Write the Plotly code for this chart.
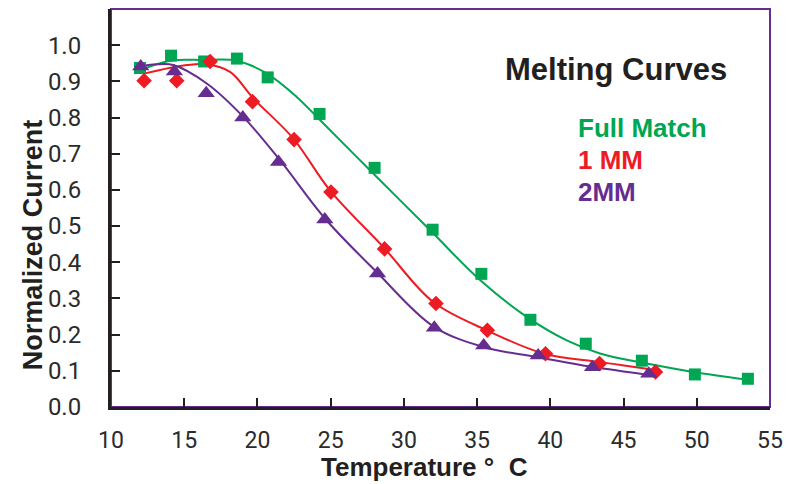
import plotly.graph_objects as go

# Measured points
full_x = [11.98, 14.1, 16.36, 18.6, 20.7, 24.24, 28.0, 31.96, 35.29, 38.64, 42.42, 46.25, 49.87, 53.49]
full_y = [0.937, 0.971, 0.955, 0.963, 0.911, 0.810, 0.661, 0.490, 0.368, 0.241, 0.175, 0.128, 0.090, 0.078]

mm1_x = [12.26, 14.49, 16.77, 19.66, 22.5, 25.02, 28.68, 32.19, 35.7, 39.67, 43.36, 47.18]
mm1_y = [0.902, 0.902, 0.955, 0.844, 0.739, 0.594, 0.437, 0.286, 0.212, 0.147, 0.120, 0.097]

mm2_x = [12.03, 14.33, 16.5, 19.0, 21.44, 24.6, 28.2, 32.08, 35.45, 39.17, 42.88, 46.72]
mm2_y = [0.941, 0.927, 0.867, 0.800, 0.677, 0.518, 0.369, 0.219, 0.170, 0.142, 0.110, 0.092]

# Fitted curves
full_fit_x = [11.71, 14.03, 16.28, 18.58, 20.63, 22.68, 24.27, 27.89, 31.78, 35.2, 38.39, 41.12, 43.39, 46.58, 49.74, 53.41]
full_fit_y = [0.926, 0.957, 0.959, 0.957, 0.922, 0.857, 0.793, 0.646, 0.489, 0.351, 0.249, 0.184, 0.148, 0.120, 0.097, 0.076]

mm1_fit_x = [12.32, 15.17, 16.54, 18.13, 19.72, 22.45, 24.95, 28.6, 32.01, 35.66, 39.52, 43.39, 46.58, 47.15]
mm1_fit_y = [0.922, 0.945, 0.947, 0.926, 0.853, 0.742, 0.599, 0.442, 0.290, 0.212, 0.148, 0.124, 0.106, 0.101]

mm2_fit_x = [11.75, 13.12, 14.25, 16.54, 19.03, 21.54, 24.61, 28.14, 32.01, 35.42, 39.07, 42.83, 46.81]
mm2_fit_y = [0.940, 0.947, 0.945, 0.894, 0.802, 0.682, 0.521, 0.373, 0.223, 0.166, 0.138, 0.111, 0.088]

x_ticks = [10, 15, 20, 25, 30, 35, 40, 45, 50, 55]
y_ticks = [0.0, 0.1, 0.2, 0.3, 0.4, 0.5, 0.6, 0.7, 0.8, 0.9, 1.0]

GREEN = "#00a651"
RED = "#ed1c24"
PURPLE = "#662d91"
DARK = "#231f20"

fig = go.Figure()
for fx, fy, c in [(full_fit_x, full_fit_y, GREEN), (mm1_fit_x, mm1_fit_y, RED), (mm2_fit_x, mm2_fit_y, PURPLE)]:
    fig.add_trace(go.Scatter(x=fx, y=fy, mode="lines", line=dict(color=c, width=2, shape="spline", smoothing=1),
                             hoverinfo="skip", showlegend=False))

fig.add_trace(go.Scatter(x=full_x, y=full_y, mode="markers", name="Full Match",
                         marker=dict(symbol="square", size=12, color=GREEN), showlegend=False))
fig.add_trace(go.Scatter(x=mm1_x, y=mm1_y, mode="markers", name="1 MM",
                         marker=dict(symbol="diamond", size=12, color=RED), showlegend=False))
fig.add_trace(go.Scatter(x=mm2_x, y=mm2_y, mode="markers", name="2MM",
                         marker=dict(symbol="triangle-up", size=15, color=PURPLE), showlegend=False))

# plot frame (purple top/right)
fig.add_shape(type="rect", xref="paper", yref="paper", x0=0, y0=0, x1=1, y1=1,
              line=dict(color=PURPLE, width=2), layer="below")

fig.update_layout(
    width=804, height=484,
    margin=dict(l=111, r=34, t=9, b=77),
    paper_bgcolor="white", plot_bgcolor="white",
    xaxis=dict(range=[10, 55], tickvals=x_ticks, ticktext=[str(v) for v in x_ticks],
               ticks="inside", ticklen=9, tickwidth=2, tickcolor=DARK,
               showline=True, linecolor=DARK, linewidth=3, showgrid=False, zeroline=False,
               tickfont=dict(family="Roboto, sans-serif", size=23, color="#2b2b2b"),
               ticklabelstandoff=10),
    yaxis=dict(range=[0, 1.1], tickvals=y_ticks, ticktext=["%.1f" % v for v in y_ticks],
               ticks="inside", ticklen=9, tickwidth=2, tickcolor=DARK,
               showline=True, linecolor=DARK, linewidth=3, showgrid=False, zeroline=False,
               tickfont=dict(family="Roboto, sans-serif", size=24, color="#2b2b2b"),
               ticklabelstandoff=22),
    annotations=[
        dict(text="<b>Melting Curves</b>", xref="paper", yref="paper", x=0.595, y=0.847,
             xanchor="left", yanchor="middle", showarrow=False,
             font=dict(family="Liberation Sans, Arial, sans-serif", size=31, color=DARK)),
        dict(text="<b>Full Match</b>", xref="paper", yref="paper", x=0.706, y=0.701,
             xanchor="left", yanchor="middle", showarrow=False,
             font=dict(family="Liberation Sans, Arial, sans-serif", size=26, color=GREEN)),
        dict(text="<b>1 MM</b>", xref="paper", yref="paper", x=0.706, y=0.621,
             xanchor="left", yanchor="middle", showarrow=False,
             font=dict(family="Liberation Sans, Arial, sans-serif", size=26, color=RED)),
        dict(text="<b>2MM</b>", xref="paper", yref="paper", x=0.706, y=0.540,
             xanchor="left", yanchor="middle", showarrow=False,
             font=dict(family="Liberation Sans, Arial, sans-serif", size=26, color=PURPLE)),
        dict(text="<b>Normalized Current</b>", xref="paper", yref="paper", x=-0.118, y=0.407,
             xanchor="center", yanchor="middle", textangle=-90, showarrow=False,
             font=dict(family="Liberation Sans, Arial, sans-serif", size=27, color=DARK)),
        dict(text="<b>Temperature °  C</b>", xref="paper", yref="paper", x=0.476, y=-0.152,
             xanchor="center", yanchor="middle", showarrow=False,
             font=dict(family="Liberation Sans, Arial, sans-serif", size=26, color=DARK)),
    ],
)

fig.write_html("out.html")
